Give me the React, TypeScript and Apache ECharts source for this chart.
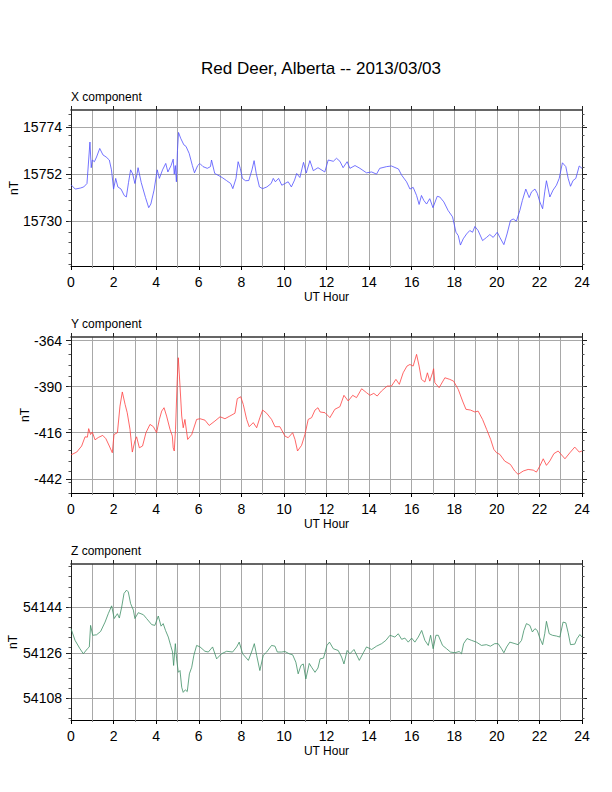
import React, { useEffect, useRef } from "react";
import * as echarts from "echarts";

// UT hour labels on the bottom axes
const hourLabels = [0, 2, 4, 6, 8, 10, 12, 14, 16, 18, 20, 22, 24];

// X component (nT)
const xHours = [
  0.0, 0.2, 0.45, 0.6, 0.75, 0.89, 0.95, 1.0, 1.1, 1.2, 1.35, 1.5, 1.65, 1.8, 1.9, 2.0, 2.1, 2.2, 2.35, 2.5,
  2.6, 2.7, 2.8, 2.9, 3.0, 3.1, 3.15, 3.3, 3.5, 3.65, 3.75, 3.9, 4.05, 4.15, 4.3, 4.45, 4.55, 4.7, 4.8, 4.85,
  4.9, 4.95, 5.0, 5.05, 5.15, 5.3, 5.4, 5.55, 5.7, 5.8, 5.95, 6.05, 6.2, 6.4, 6.55, 6.6, 6.75, 6.9, 7.1, 7.3,
  7.5, 7.6, 7.75, 7.85, 7.95, 8.05, 8.2, 8.35, 8.5, 8.6, 8.7, 8.85, 9.0, 9.2, 9.4, 9.5, 9.6, 9.75, 9.9, 10.05,
  10.2, 10.35, 10.5, 10.6, 10.75, 10.92, 11.05, 11.22, 11.38, 11.6, 11.92, 12.08, 12.32, 12.47, 12.63, 12.78,
  12.97, 13.1, 13.34, 13.57, 13.88, 14.12, 14.35, 14.5, 14.82, 15.05, 15.38, 15.53, 15.76, 15.92, 16.07,
  16.23, 16.35, 16.46, 16.57, 16.7, 16.85, 17.0, 17.2, 17.32, 17.51, 17.71, 17.92, 18.08, 18.19, 18.29,
  18.42, 18.58, 18.73, 18.86, 18.97, 19.12, 19.33, 19.52, 19.67, 19.83, 20.02, 20.14, 20.33, 20.48, 20.64,
  20.77, 20.92, 21.08, 21.2, 21.36, 21.52, 21.63, 21.79, 21.9, 22.02, 22.15, 22.25, 22.33, 22.49, 22.64,
  22.8, 22.93, 23.08, 23.24, 23.35, 23.46, 23.58, 23.71, 23.87, 24.0,
];
const xValues = [
  15747, 15745, 15745.5, 15746, 15747.6, 15767, 15755, 15758.6, 15757.8, 15760, 15764, 15761, 15760, 15758.6,
  15754, 15745, 15750, 15746, 15745, 15742, 15741.3, 15748, 15754, 15752, 15747.6, 15752, 15755, 15748, 15741,
  15736.3, 15738, 15744.5, 15754, 15750, 15754, 15757, 15753, 15756, 15759, 15752, 15756, 15748.4, 15763,
  15771.5, 15768.8, 15765.7, 15765, 15761.7, 15756, 15752.6, 15756, 15757, 15755.5, 15754.7, 15755.5, 15758.6,
  15752.3, 15751.5, 15750.4, 15749, 15747.6, 15745.2, 15750, 15757.8, 15754.7, 15750, 15748.9, 15749, 15754,
  15758.3, 15752.3, 15746, 15745.2, 15746, 15747.6, 15750, 15748.4, 15750, 15746.8, 15747.6, 15748.4, 15746,
  15749.2, 15752.3, 15750.4, 15757.5, 15752.5, 15758.3, 15753.6, 15755, 15753, 15758.6, 15758, 15759.4,
  15758, 15755, 15757.8, 15754.7, 15756, 15754.7, 15752.6, 15753, 15752, 15754.7, 15755.5, 15755.8, 15754.4,
  15751.5, 15748.4, 15745, 15745.8, 15742, 15737.8, 15742, 15739.7, 15738, 15740.5, 15736.3, 15741.6,
  15741.3, 15739, 15735, 15732, 15724.8, 15723.2, 15718.8, 15721.7, 15724, 15725.6, 15724.8, 15727.5,
  15725.6, 15720.9, 15722.4, 15723.7, 15722.4, 15724.8, 15722.4, 15719, 15724, 15730.3, 15731, 15730,
  15735, 15739.7, 15745, 15741, 15743.7, 15745, 15743, 15739, 15735.8, 15743.7, 15748.9, 15741.3, 15744.5,
  15746.8, 15750, 15757.3, 15755.5, 15750, 15746.3, 15749, 15750, 15755.8, 15754.7,
];
const xMajorTicks = [15730, 15752, 15774];
const xMinorTicks = [
  15710, 15715, 15720, 15725, 15730, 15735, 15740, 15745, 15750, 15755, 15760, 15765, 15770, 15775, 15780,
];

// Y component (nT)
const yHours = [
  0.0, 0.27, 0.5, 0.66, 0.77, 0.83, 0.92, 1.0, 1.13, 1.28, 1.49, 1.64, 1.8, 1.94, 2.02, 2.18, 2.3, 2.41, 2.54,
  2.64, 2.77, 2.88, 3.0, 3.08, 3.21, 3.36, 3.52, 3.71, 3.87, 4.02, 4.15, 4.26, 4.37, 4.49, 4.65, 4.76, 4.8,
  4.85, 4.91, 4.99, 5.04, 5.12, 5.2, 5.27, 5.35, 5.48, 5.67, 5.9, 6.06, 6.29, 6.49, 6.76, 7.0, 7.23, 7.46,
  7.7, 7.81, 7.97, 8.09, 8.25, 8.37, 8.56, 8.72, 8.87, 9.0, 9.19, 9.42, 9.58, 9.81, 10.05, 10.2, 10.41,
  10.52, 10.64, 10.83, 10.99, 11.14, 11.3, 11.46, 11.6, 11.7, 11.93, 12.16, 12.39, 12.63, 12.82, 13.02,
  13.23, 13.41, 13.65, 13.88, 14.04, 14.22, 14.38, 14.58, 14.85, 15.05, 15.26, 15.42, 15.6, 15.78, 15.92,
  16.07, 16.23, 16.35, 16.46, 16.62, 16.74, 16.85, 16.98, 17.03, 17.09, 17.29, 17.56, 17.79, 17.97, 18.19,
  18.39, 18.55, 18.76, 18.97, 19.12, 19.33, 19.52, 19.71, 19.86, 19.99, 20.14, 20.37, 20.64, 20.84, 21.0,
  21.24, 21.47, 21.71, 21.86, 22.02, 22.18, 22.33, 22.49, 22.68, 22.88, 23.2, 23.43, 23.66, 23.87, 24.0,
];
const yValues = [
  -428.5, -426.9, -423.5, -418.3, -418.5, -413.7, -417, -415.6, -420, -418.7, -417.5, -419.4, -423.5, -427.3,
  -417, -416, -401, -393, -400, -404.7, -414, -426.9, -420.7, -418.3, -424.5, -423.5, -416, -411.3, -412.6,
  -416, -408.5, -403.8, -401.9, -406.6, -414.1, -417.9, -424.5, -426.3, -414, -386, -373.7, -389.7, -406.6,
  -413.2, -408.5, -419.8, -417, -408.5, -408.1, -408.9, -411.9, -409.4, -407, -408.1, -406.6, -405, -396.8,
  -395.7, -400, -408.5, -412.6, -410.3, -413.2, -407.5, -403.2, -405, -408.5, -412.6, -412.6, -417.9,
  -418.8, -416, -419.8, -426.3, -423.1, -416.9, -408.5, -407.5, -403.2, -401.9, -404.3, -404.7, -407.5,
  -402.8, -401.3, -394.9, -398.1, -394.9, -396.2, -391.2, -393.4, -394.9, -393.8, -395.3, -392.5, -389.7,
  -389.7, -385.9, -388.7, -382.2, -378.4, -377.5, -378.4, -371.8, -378.4, -385.9, -387.4, -382.2, -386.9,
  -382.2, -379.9, -387.8, -390.6, -385, -385.9, -386.9, -391.6, -398.1, -402.8, -403.2, -404.3, -403.8,
  -408.5, -414.1, -419.8, -425.4, -427.3, -428.2, -432, -433.9, -437.6, -439.5, -437.6, -436.7, -437.1,
  -438.2, -434.8, -430.7, -434.4, -431.9, -427.8, -426.3, -430.7, -427.3, -424.1, -426.9, -426.3,
];
const yMajorTicks = [-442, -416, -390, -364];
const yMinorTicks = [-450, -444, -438, -432, -426, -420, -414, -408, -402, -396, -390, -384, -378, -372, -366];

// Z component (nT)
const zHours = [
  0.0, 0.19, 0.42, 0.58, 0.77, 0.86, 0.92, 1.02, 1.2, 1.39, 1.6, 1.75, 1.91, 2.03, 2.18, 2.27, 2.38, 2.49,
  2.61, 2.69, 2.8, 2.93, 3.0, 3.16, 3.4, 3.55, 3.79, 3.94, 4.1, 4.23, 4.33, 4.44, 4.57, 4.68, 4.77, 4.82,
  4.9, 4.96, 5.04, 5.12, 5.2, 5.27, 5.37, 5.46, 5.56, 5.67, 5.77, 5.9, 6.06, 6.29, 6.45, 6.65, 6.84, 7.07,
  7.31, 7.59, 7.78, 7.9, 8.06, 8.33, 8.48, 8.61, 8.72, 8.87, 9.03, 9.19, 9.42, 9.58, 9.69, 9.89, 10.05,
  10.25, 10.41, 10.56, 10.67, 10.8, 10.91, 11.03, 11.19, 11.3, 11.46, 11.6, 11.7, 11.86, 12.02, 12.14,
  12.32, 12.55, 12.71, 12.82, 12.97, 13.1, 13.29, 13.54, 13.73, 13.88, 14.12, 14.35, 14.59, 14.79, 14.98,
  15.21, 15.37, 15.53, 15.68, 15.84, 16.0, 16.15, 16.31, 16.47, 16.62, 16.78, 16.89, 17.01, 17.14, 17.25,
  17.45, 17.64, 17.82, 18.03, 18.23, 18.34, 18.44, 18.6, 18.81, 19.04, 19.28, 19.51, 19.7, 19.9, 20.06,
  20.22, 20.33, 20.46, 20.61, 20.85, 21.0, 21.16, 21.27, 21.39, 21.55, 21.67, 21.79, 21.9, 22.02, 22.15,
  22.25, 22.33, 22.46, 22.61, 22.8, 22.96, 23.11, 23.24, 23.35, 23.46, 23.66, 23.77, 23.9, 24.0,
];
const zValues = [
  54135.5, 54130.9, 54127.6, 54125.6, 54127.6, 54128.3, 54136.8, 54132.9, 54133.1, 54134.4, 54138.1,
  54141.4, 54144.5, 54139.5, 54141.4, 54139.7, 54144, 54149.4, 54150.7, 54150, 54145.4, 54142.8, 54139.5,
  54141.8, 54141, 54139.5, 54137.1, 54136.8, 54140.5, 54136.5, 54137.5, 54134.8, 54132.2, 54128.9,
  54126.3, 54121, 54129.6, 54123.6, 54118.3, 54119, 54112.4, 54110.4, 54111.4, 54110.7, 54117.7, 54120.3,
  54125, 54128.9, 54128.3, 54126.6, 54126.3, 54128.3, 54123.6, 54125.6, 54126.6, 54126.3, 54128.3,
  54130.2, 54125.6, 54123, 54126.3, 54129.6, 54125, 54119, 54125, 54126.3, 54128.9, 54128.6, 54126.3,
  54126.3, 54126.5, 54125.6, 54125.2, 54122.3, 54117.7, 54121, 54121.6, 54115.7, 54121.8, 54120.3,
  54118.3, 54120, 54123.6, 54123.9, 54128.9, 54130.2, 54127.6, 54126.9, 54124.3, 54121.6, 54126.9,
  54125.6, 54127.3, 54123, 54126, 54128.3, 54127.3, 54128.6, 54129.6, 54130.9, 54132.9, 54132.2, 54133.5,
  54131.3, 54131.8, 54130.2, 54131.8, 54130.2, 54132.2, 54134.8, 54130.9, 54128.9, 54132.9, 54127.6,
  54132.9, 54132.9, 54128.9, 54127.6, 54126.3, 54126, 54126.5, 54125.6, 54129.6, 54131.6, 54130.9,
  54130.2, 54128.9, 54129.2, 54128.6, 54129.6, 54129.6, 54127.6, 54126, 54128.3, 54130.2, 54129.6,
  54129.2, 54130.9, 54134.8, 54137.5, 54136.8, 54134.2, 54135.5, 54134.8, 54131.8, 54129.2, 54133.5,
  54138.4, 54133.5, 54132.9, 54132.6, 54132.2, 54138.1, 54137.8, 54133.9, 54129.2, 54129.4, 54131.6,
  54133.2, 54132.2,
];
const zMajorTicks = [54108, 54126, 54144];
const zMinorTicks = [
  54100, 54104, 54108, 54112, 54116, 54120, 54124, 54128, 54132, 54136, 54140, 54144, 54148, 54152, 54156,
  54160,
];

const FONT = "'Liberation Sans', Arial, Helvetica, sans-serif";
const GRID_LEFT = 71;
const GRID_RIGHT = 30;
const GRID_H = 156;

const panels = [
  {
    label: "X component", hours: xHours, values: xValues, color: "#5050ff",
    min: 15709, max: 15782, majors: xMajorTicks, minors: xMinorTicks, top: 110, nameGap: 51,
  },
  {
    label: "Y component", hours: yHours, values: yValues, color: "#ff4040",
    min: -450, max: -362, majors: yMajorTicks, minors: yMinorTicks, top: 337, nameGap: 40,
  },
  {
    label: "Z component", hours: zHours, values: zValues, color: "#3f8f66",
    min: 54099.5, max: 54161, majors: zMajorTicks, minors: zMinorTicks, top: 564, nameGap: 52,
  },
];

const App = () => {
  const chartRef = useRef<HTMLDivElement>(null);

  useEffect(() => {
    if (!chartRef.current) return;
    const chart = echarts.init(chartRef.current, null, { renderer: "svg" });

    const frame = "#222";
    const grid = "#a8a8a8";

    const xAxis: any[] = [];
    const yAxis: any[] = [];
    const series: any[] = [];

    panels.forEach((p, i) => {
      // bottom axis: hourly grid lines and labels
      xAxis.push({
        type: "value", gridIndex: i, position: "bottom", min: 0, max: 24, interval: 1,
        axisLine: { show: true, onZero: false, lineStyle: { color: "#000", width: 1 } },
        axisTick: { show: true, length: 2, lineStyle: { color: "#888" } },
        axisLabel: {
          customValues: hourLabels, fontSize: 14, color: "#000", fontFamily: FONT, margin: 9,
          formatter: (v: number) => String(v),
        },
        splitLine: { show: true, lineStyle: { color: grid, width: 1 } },
        name: "UT Hour", nameLocation: "middle", nameGap: 25, nameMoveOverlap: false,
        nameTextStyle: { fontSize: 12, color: "#000", fontFamily: FONT },
      });
      // bottom axis: even hour ticks
      xAxis.push({
        type: "value", gridIndex: i, position: "bottom", min: 0, max: 24, interval: 2,
        axisLine: { show: false, onZero: false },
        axisTick: { show: true, length: 4, lineStyle: { color: "#000" } },
        axisLabel: { show: false }, splitLine: { show: false },
      });
      // top frame
      xAxis.push({
        type: "value", gridIndex: i, position: "top", min: 0, max: 24, interval: 2,
        axisLine: { show: true, onZero: false, lineStyle: { color: "#333", width: 1.6 } },
        axisTick: { show: true, length: 4, lineStyle: { color: "#222" } },
        axisLabel: { show: false }, splitLine: { show: false },
      });

      yAxis.push({
        type: "value", gridIndex: i, position: "left", min: p.min, max: p.max,
        axisLine: { show: true, onZero: false, lineStyle: { color: frame, width: 1 } },
        axisTick: { show: true, customValues: p.majors, length: 5, lineStyle: { color: frame } },
        axisLabel: {
          customValues: p.majors, fontSize: 14, color: "#000", fontFamily: FONT, margin: 9,
          formatter: (v: number) => String(v),
        },
        splitLine: { show: true, lineStyle: { color: grid, width: 1 } },
        name: "nT", nameLocation: "middle", nameGap: p.nameGap, nameRotate: 90, nameMoveOverlap: false,
        nameTextStyle: { fontSize: 12, color: "#000", fontFamily: FONT },
      });
      yAxis.push({
        type: "value", gridIndex: i, position: "left", min: p.min, max: p.max,
        axisLine: { show: false, onZero: false },
        axisTick: { show: true, customValues: p.minors, length: 2.5, lineStyle: { color: "#555" } },
        axisLabel: { show: false }, splitLine: { show: false },
      });
      yAxis.push({
        type: "value", gridIndex: i, position: "right", min: p.min, max: p.max,
        axisLine: { show: true, onZero: false, lineStyle: { color: frame, width: 1 } },
        axisTick: { show: true, customValues: p.majors, length: 5, lineStyle: { color: frame } },
        axisLabel: { show: false }, splitLine: { show: false },
      });
      yAxis.push({
        type: "value", gridIndex: i, position: "right", min: p.min, max: p.max,
        axisLine: { show: false, onZero: false },
        axisTick: { show: true, customValues: p.minors, length: 2.5, lineStyle: { color: "#555" } },
        axisLabel: { show: false }, splitLine: { show: false },
      });

      series.push({
        type: "line",
        name: p.label,
        xAxisIndex: i * 3,
        yAxisIndex: i * 4,
        data: p.hours.map((h, k) => [h, p.values[k]]),
        symbol: "none",
        showSymbol: false,
        silent: true,
        lineStyle: { color: p.color, width: 0.8 },
      });
    });

    const textStyle = (text: string, size: number, align: string) => ({
      text,
      fontSize: size,
      fontFamily: FONT,
      fill: "#000",
      align,
      textAlign: align,
      verticalAlign: "middle",
      textVerticalAlign: "middle",
    });

    const option: any = {
      animation: false,
      backgroundColor: "#fff",
      grid: panels.map((p) => ({
        left: GRID_LEFT, right: GRID_RIGHT, top: p.top, height: GRID_H,
        containLabel: false, outerBoundsMode: "none",
      })),
      xAxis,
      yAxis,
      series,
      graphic: [
        { type: "text", x: 321, y: 68, style: textStyle("Red Deer, Alberta -- 2013/03/03", 17, "center") },
        ...panels.map((p) => ({
          type: "text", x: GRID_LEFT, y: p.top - 13, style: textStyle(p.label, 12, "left"),
        })),
      ],
    };

    chart.setOption(option);

    return () => {
      chart.dispose();
    };
  }, []);

  return (
    <div
      ref={chartRef}
      style={{ position: "absolute", left: 0, top: 0, width: "612px", height: "792px" }}
    />
  );
};

export default App;
